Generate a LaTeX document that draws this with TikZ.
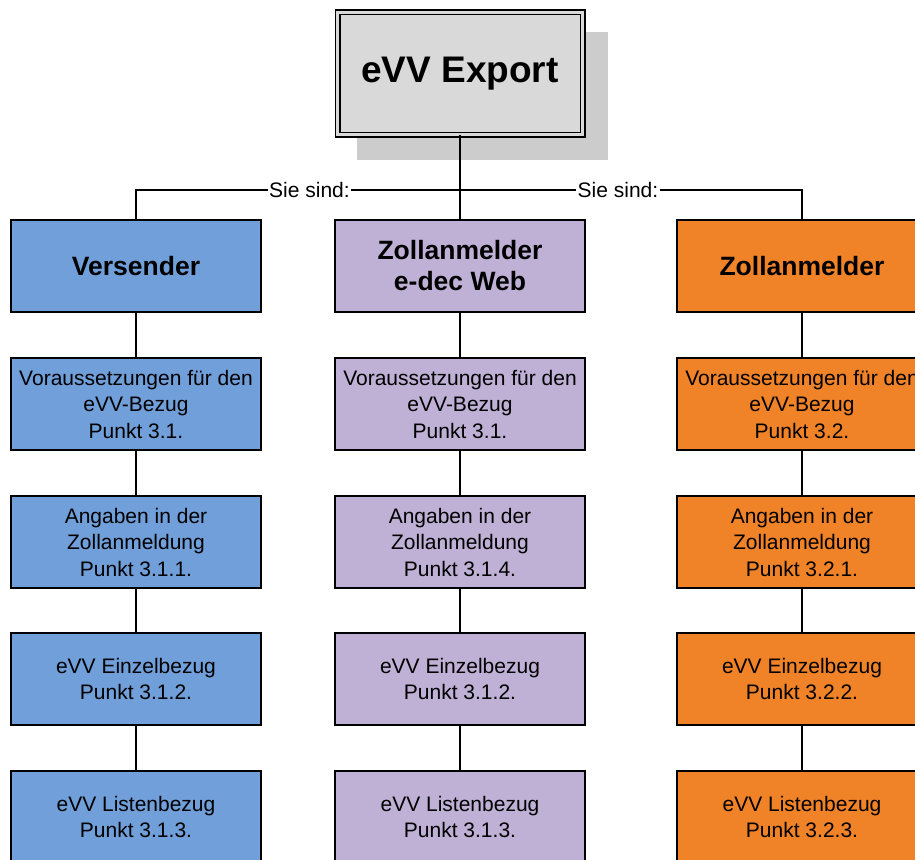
\documentclass[tikz,border=0pt]{standalone}
\usepackage{fontspec}
\setmainfont{Liberation Sans}
\definecolor{cblue}{RGB}{112,159,218}
\definecolor{cpurple}{RGB}{191,176,213}
\definecolor{corange}{RGB}{240,130,40}
\definecolor{ctop}{RGB}{217,217,217}
\definecolor{cshadow}{RGB}{204,204,204}
\tikzset{
  box/.style={draw=black, line width=1.8pt, minimum width=250pt, minimum height=92pt,
    inner sep=0pt, align=center, font=\fontsize{21}{26.5}\selectfont},
  headbox/.style={box, font=\fontsize{26.5}{31}\selectfont\bfseries},
  conn/.style={draw=black, line width=1.8pt},
  lbl/.style={fill=white, inner xsep=1.5pt, inner ysep=1pt, font=\fontsize{21}{25}\selectfont},
}
\begin{document}
\begin{tikzpicture}[x=1pt,y=-1pt]
\clip (0,0) rectangle (915,859);
\fill[white] (0,0) rectangle (915,859);
% shadow and top box
\node[fill=cshadow, minimum width=251pt, minimum height=128pt, inner sep=0pt] (shadow) at (482.5,96) {};
\node[draw=black, line width=1.5pt, double=ctop, double distance=3pt, fill=ctop,
      minimum width=245pt, minimum height=122pt, inner sep=0pt,
      font=\fontsize{37}{42}\selectfont\bfseries] (top) at (460,73.5) {eVV Export};
% level 1
\node[headbox, fill=cblue] (l1) at (136,266) {Versender};
\node[headbox, fill=cpurple] (m1) at (460,266) {Zollanmelder\\e-dec Web};
\node[headbox, fill=corange] (r1) at (802,266) {Zollanmelder};
% level 2
\node[box, fill=cblue] (l2) at (136,404) {Voraussetzungen für den\\eVV-Bezug\\Punkt 3.1.};
\node[box, fill=cpurple] (m2) at (460,404) {Voraussetzungen für den\\eVV-Bezug\\Punkt 3.1.};
\node[box, fill=corange] (r2) at (802,404) {Voraussetzungen für den\\eVV-Bezug\\Punkt 3.2.};
% level 3
\node[box, fill=cblue] (l3) at (136,542) {Angaben in der\\Zollanmeldung\\Punkt 3.1.1.};
\node[box, fill=cpurple] (m3) at (460,542) {Angaben in der\\Zollanmeldung\\Punkt 3.1.4.};
\node[box, fill=corange] (r3) at (802,542) {Angaben in der\\Zollanmeldung\\Punkt 3.2.1.};
% level 4
\node[box, fill=cblue] (l4) at (136,679) {eVV Einzelbezug\\Punkt 3.1.2.};
\node[box, fill=cpurple] (m4) at (460,679) {eVV Einzelbezug\\Punkt 3.1.2.};
\node[box, fill=corange] (r4) at (802,679) {eVV Einzelbezug\\Punkt 3.2.2.};
% level 5
\node[box, fill=cblue] (l5) at (136,817) {eVV Listenbezug\\Punkt 3.1.3.};
\node[box, fill=cpurple] (m5) at (460,817) {eVV Listenbezug\\Punkt 3.1.3.};
\node[box, fill=corange] (r5) at (802,817) {eVV Listenbezug\\Punkt 3.2.3.};
% connectors
\coordinate (bus) at (460,190);
\draw[conn] (top.south) -- (m1.north);
\draw[conn] (l1.north) |- (bus) -| (r1.north);
\foreach \c in {l,m,r}{
  \draw[conn] (\c1.south) -- (\c2.north);
  \draw[conn] (\c2.south) -- (\c3.north);
  \draw[conn] (\c3.south) -- (\c4.north);
  \draw[conn] (\c4.south) -- (\c5.north);
}
\node[lbl] (s1) at (309.5,190) {Sie sind:};
\node[lbl] (s2) at (618,190) {Sie sind:};
\end{tikzpicture}
\end{document}
